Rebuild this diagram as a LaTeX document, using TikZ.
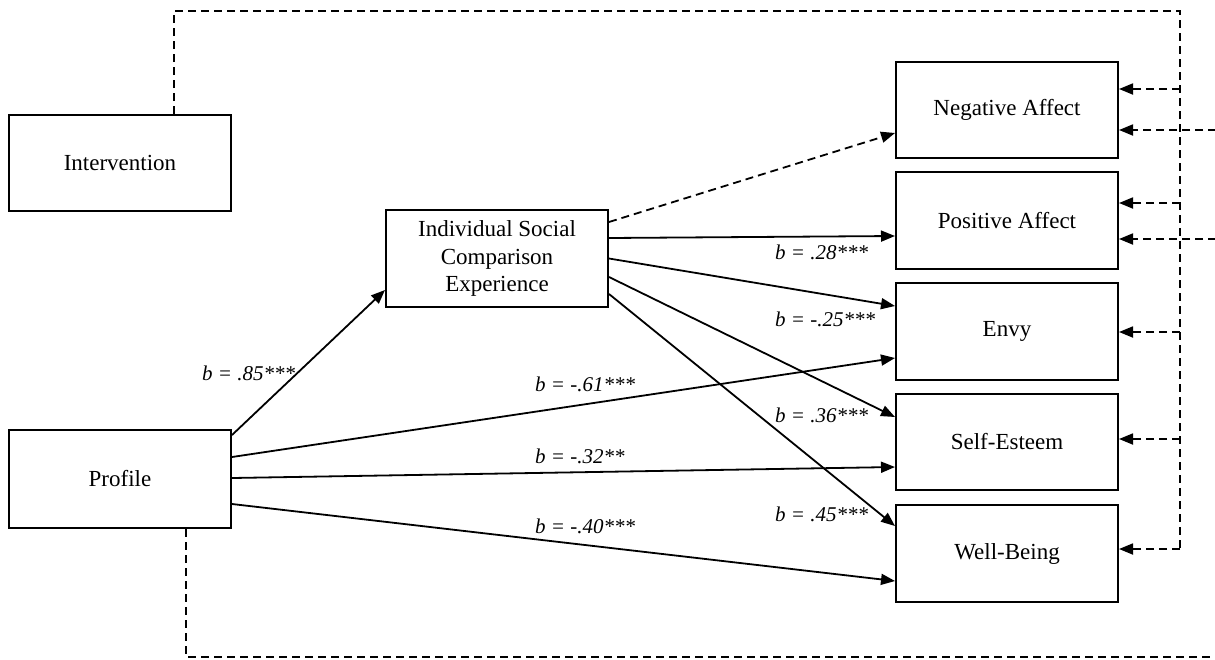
\documentclass[tikz,border=0pt]{standalone}
\usepackage{fontspec}
\setmainfont{Liberation Serif}
\usetikzlibrary{arrows.meta,calc}
\begin{document}
\begin{tikzpicture}[x=1pt,y=-1pt,
  box/.style={draw,line width=2pt,minimum width=222pt,minimum height=96pt,inner sep=0pt,align=center,font=\fontsize{23}{27.5}\selectfont},
  conn/.style={line width=1.8pt,-{Triangle[length=14pt,width=11pt]}},
  dl/.style={line width=1.8pt,dash pattern=on 8pt off 5pt},
  dla/.style={dl,-{Triangle[length=14pt,width=11pt]}},
  lab/.style={anchor=west,inner sep=0pt,font=\fontsize{21}{24}\selectfont\itshape}]
\useasboundingbox (0,0) rectangle (1215,659);
% boxes
\node[box] (int) at (120,163) {Intervention};
\node[box,minimum height=98pt] (prof) at (120,479) {Profile};
\node[box,minimum height=97pt] (isce) at (497,258.5) {Individual Social\\Comparison\\Experience};
\node[box] (na) at (1007,110) {Negative Affect};
\node[box,minimum height=97pt] (pa) at (1007,220.5) {Positive Affect};
\node[box,minimum height=97pt] (envy) at (1007,331.5) {Envy};
\node[box] (se) at (1007,442) {Self-Esteem};
\node[box,minimum height=97pt] (wb) at (1007,553.5) {Well-Being};
% solid paths
\draw[conn] ($(prof.north east)+(0,6)$) -- ($(isce.south west)+(0,-18)$);
\draw[conn] ($(prof.north east)+(0,28)$) -- ($(envy.south west)+(0,-23)$);
\draw[conn] ($(prof.east)+(0,-1)$) -- ($(se.south west)+(0,-24)$);
\draw[conn] ($(prof.north east)+(0,75)$) -- ($(wb.south west)+(0,-22)$);
\draw[dla] ($(isce.north east)+(0,13)$) -- ($(na.south west)+(0,-26)$);
\draw[conn] ($(isce.north east)+(0,29)$) -- ($(pa.north west)+(0,65)$);
\draw[conn] (isce.east) -- ($(envy.north west)+(0,24)$);
\draw[conn] ($(isce.north east)+(0,68)$) -- ($(se.north west)+(0,24)$);
\draw[conn] ($(isce.north east)+(0,85)$) -- ($(wb.north west)+(0,22)$);
% labels
\node[lab] (l1) at (202,373) {b = .85***};
\node[lab] (l2) at (535,384) {b = -.61***};
\node[lab] (l3) at (535,456) {b = -.32**};
\node[lab] (l4) at (535,526) {b = -.40***};
\node[lab] (l5) at (775,252) {b = .28***};
\node[lab] (l6) at (775,319) {b = -.25***};
\node[lab] (l7) at (775,415) {b = .36***};
\node[lab] (l8) at (775,514) {b = .45***};
% dashed intervention paths
\coordinate (tr) at (1180,11);
\coordinate (t1) at (1180,89);
\coordinate (t2) at (1180,203);
\coordinate (t3) at (1180,332);
\coordinate (t4) at (1180,439);
\coordinate (t5) at (1180,549);
\draw[dl] ($(int.north west)+(166,0)$) |- (tr) -- (t5);
\draw[dla] (t1) -- (t1 -| na.east);
\draw[dla] (t2) -- (t2 -| pa.east);
\draw[dla] (t3) -- (t3 -| envy.east);
\draw[dla] (t4) -- (t4 -| se.east);
\draw[dla] (t5) -- (t5 -| wb.east);
% dashed profile paths
\coordinate (br) at (1216,657);
\coordinate (r1) at (1216,130);
\coordinate (r2) at (1216,239);
\draw[dl] ($(prof.south west)+(178,0)$) |- (br);
\draw[dla] (r1) -- (r1 -| na.east);
\draw[dla] (r2) -- (r2 -| pa.east);
\end{tikzpicture}
\end{document}
